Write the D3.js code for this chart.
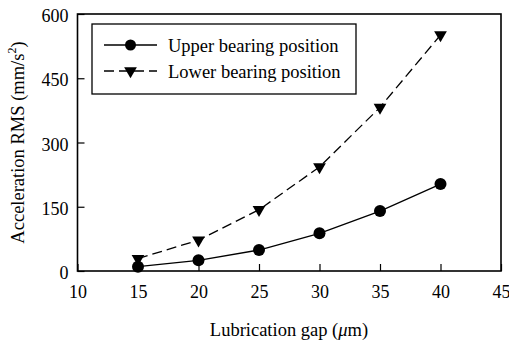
<!DOCTYPE html>
<html>
<head>
<meta charset="utf-8">
<script src="https://cdn.jsdelivr.net/npm/d3@7"></script>
<style>
  html, body { margin: 0; padding: 0; background: #fff; }
</style>
</head>
<body>
<div id="chart"></div>
<script>
const gaps = [15, 20, 25, 30, 35, 40];
const upperRms = [10, 25, 49, 88, 140, 203];
const lowerRms = [29, 72, 143, 243, 382, 551];
const xTicks = [10, 15, 20, 25, 30, 35, 40, 45];
const yTicks = [0, 150, 300, 450, 600];
const seriesNames = ['Upper bearing position', 'Lower bearing position'];

const FONT = '"Liberation Serif", "Times New Roman", serif';
const W = 509, H = 343;
const margin = { left: 77.5, right: 8, top: 14, bottom: 72 };

const svg = d3.select('#chart').append('svg')
  .attr('width', W).attr('height', H);

const x = d3.scaleLinear().domain([10, 45]).range([margin.left, W - margin.right]);
const y = d3.scaleLinear().domain([0, 600]).range([H - margin.bottom, margin.top]);

// frame
svg.append('rect')
  .attr('x', x(10)).attr('y', y(600))
  .attr('width', x(45) - x(10)).attr('height', y(0) - y(600))
  .attr('fill', 'none').attr('stroke', '#000').attr('stroke-width', 1.6);

// x axis, ticks pointing inward
const xAxis = svg.append('g')
  .attr('transform', `translate(0,${y(0)})`)
  .call(d3.axisBottom(x).tickValues(xTicks).tickSizeInner(-7).tickSizeOuter(0).tickPadding(14));
xAxis.select('.domain').remove();
xAxis.selectAll('.tick line').attr('stroke', '#000').attr('stroke-width', 1.2);
xAxis.selectAll('.tick text').attr('fill', '#000').attr('font-size', 18).attr('font-family', FONT);

const yAxis = svg.append('g')
  .attr('transform', `translate(${x(10)},0)`)
  .call(d3.axisLeft(y).tickValues(yTicks).tickSizeInner(-7).tickSizeOuter(0).tickPadding(9));
yAxis.select('.domain').remove();
yAxis.selectAll('.tick line').attr('stroke', '#000').attr('stroke-width', 1.2);
yAxis.selectAll('.tick text').attr('fill', '#000').attr('font-size', 18).attr('font-family', FONT)
  .attr('dy', '0.42em');

// axis titles
const xt = svg.append('text')
  .attr('x', 289).attr('y', 336).attr('font-family', FONT)
  .attr('text-anchor', 'middle').attr('font-size', 18.5);
xt.append('tspan').text('Lubrication gap (');
xt.append('tspan').attr('font-style', 'italic').text('μ');
xt.append('tspan').text('m)');

const yt = svg.append('text').attr('font-family', FONT)
  .attr('transform', `translate(24,${(y(0) + y(600)) / 2}) rotate(-90)`)
  .attr('text-anchor', 'middle').attr('font-size', 18.5);
yt.append('tspan').text('Acceleration RMS (mm/s');
yt.append('tspan').attr('font-size', 12).attr('dy', -8).text('2');
yt.append('tspan').attr('dy', 8).text(')');

// series
const line = d3.line().x((d, i) => x(gaps[i])).y(d => y(d));

svg.append('path').datum(upperRms)
  .attr('d', line).attr('fill', 'none').attr('stroke', '#000').attr('stroke-width', 1.3);
svg.append('path').datum(lowerRms)
  .attr('d', line).attr('fill', 'none').attr('stroke', '#000').attr('stroke-width', 1.3)
  .attr('stroke-dasharray', '10,5');

const tri = d3.symbol().type(d3.symbolTriangle).size(70);

svg.selectAll('.up').data(upperRms).enter().append('circle')
  .attr('cx', (d, i) => x(gaps[i])).attr('cy', d => y(d)).attr('r', 6).attr('fill', '#000');
svg.selectAll('.low').data(lowerRms).enter().append('path')
  .attr('d', tri)
  .attr('transform', (d, i) => `translate(${x(gaps[i])},${y(d)}) rotate(180)`)
  .attr('fill', '#000');

// legend
const lg = svg.append('g');
lg.append('rect').attr('x', 92).attr('y', 24).attr('width', 264).attr('height', 70)
  .attr('fill', '#fff').attr('stroke', '#000').attr('stroke-width', 1.3);
const rows = [45, 71];
rows.forEach((ry, k) => {
  lg.append('line').attr('x1', 104).attr('x2', 157).attr('y1', ry).attr('y2', ry)
    .attr('stroke', '#000').attr('stroke-width', 1.3)
    .attr('stroke-dasharray', k === 1 ? '10,5' : null);
  if (k === 0) {
    lg.append('circle').attr('cx', 130.5).attr('cy', ry).attr('r', 5.5).attr('fill', '#000');
  } else {
    lg.append('path').attr('d', tri).attr('transform', `translate(130.5,${ry}) rotate(180)`).attr('fill', '#000');
  }
  lg.append('text').attr('x', 168).attr('y', ry + 6.5).attr('font-size', 18.5)
    .attr('font-family', FONT).text(seriesNames[k]);
});
</script>
</body>
</html>
